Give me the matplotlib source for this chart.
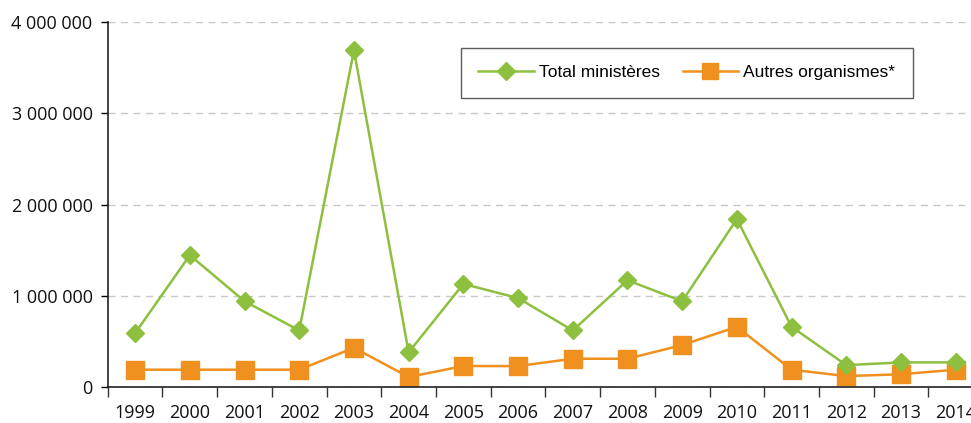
import numpy as np
import matplotlib
matplotlib.use("Agg")
import matplotlib.pyplot as plt
import matplotlib.ticker as ticker

years = ['1999', '2000', '2001', '2002', '2003', '2004', '2005', '2006',
         '2007', '2008', '2009', '2010', '2011', '2012', '2013', '2014']
total_ministeres = [590000, 1445000, 940000, 620000, 3690000, 380000, 1130000, 975000,
                    620000, 1170000, 940000, 1840000, 660000, 240000, 270000, 270000]
autres_organismes = [190000, 190000, 190000, 190000, 430000, 110000, 230000, 230000,
                     310000, 310000, 460000, 660000, 190000, 120000, 140000, 190000]

green = '#8DC03F'
orange = '#F0901E'

fig = plt.figure(figsize=(9.71, 4.23), dpi=100)
ax = fig.add_axes([0.111, 0.085, 0.889, 0.863])

x = np.arange(len(years))
ax.plot(x, total_ministeres, color=green, lw=1.8, marker='D', ms=9,
        label='Total ministères', zorder=3)
ax.plot(x, autres_organismes, color=orange, lw=1.8, marker='s', ms=13,
        label='Autres organismes*', zorder=2)

ax.set_ylim(0, 4000000)
ax.set_xlim(-0.5, 15.28)
ax.yaxis.set_major_locator(ticker.MultipleLocator(1000000))
ax.yaxis.set_major_formatter(ticker.FuncFormatter(lambda v, p: f'{int(v):,}'.replace(',', ' ')))
ax.grid(axis='y', color='#c8c8c8', ls=(0, (5, 4)), lw=1)
ax.set_axisbelow(True)

# x ticks between categories, labels centred
ax.set_xticks(x - 0.5)
ax.set_xticklabels([])
ax.set_xticks(x, minor=True)
ax.set_xticklabels(years, minor=True)
ax.tick_params(axis='x', which='major', length=7, width=1, color='#333333')
ax.tick_params(axis='x', which='minor', length=0, pad=12, labelsize=13)
ax.tick_params(axis='y', length=5, width=1, labelsize=13, pad=6)

for s in ['top', 'right']:
    ax.spines[s].set_visible(False)
for s in ['left', 'bottom']:
    ax.spines[s].set_linewidth(1.2)
    ax.spines[s].set_color('#222222')

for lab in ax.get_xticklabels(minor=True) + ax.get_yticklabels():
    lab.set_family('Open Sans')
    lab.set_color('#111111')

leg = ax.legend(loc='upper left', bbox_to_anchor=(0.409, 0.929), ncol=2,
                frameon=True, fancybox=False, edgecolor='#333333', borderaxespad=0,
                prop={'family': 'Liberation Sans', 'size': 12.5},
                handlelength=3.2, columnspacing=1.3, borderpad=1.0, handletextpad=0.3)
leg.get_frame().set_linewidth(1)
for h in leg.legend_handles:
    if h.get_marker() == 's':
        h.set_markersize(11)
    else:
        h.set_markersize(9)

fig.savefig('out.png', dpi=100)
